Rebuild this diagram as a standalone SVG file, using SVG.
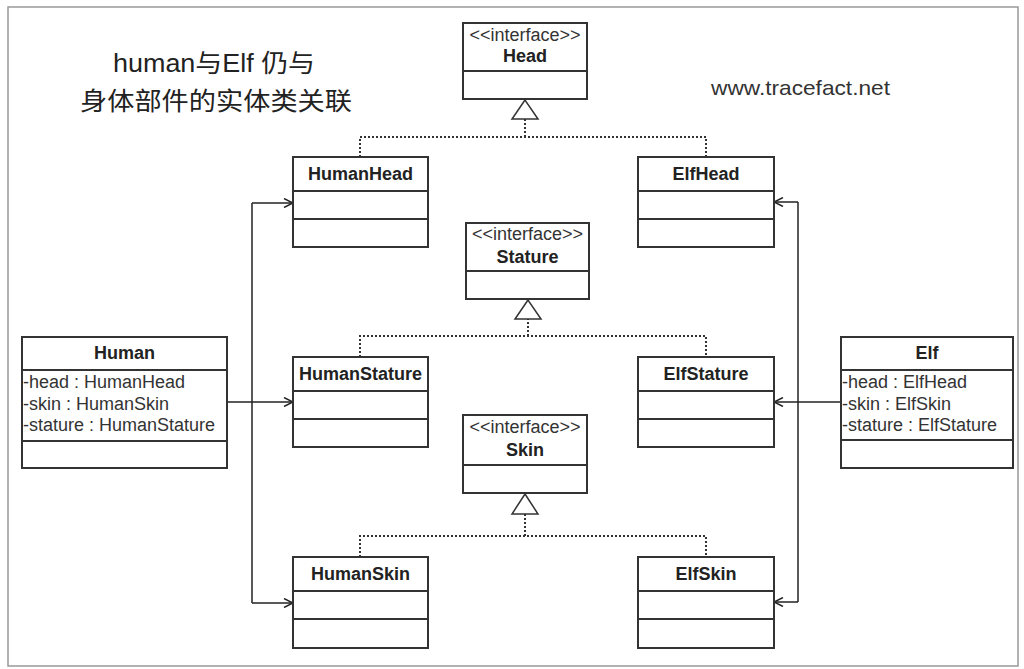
<svg xmlns="http://www.w3.org/2000/svg" width="1024" height="669" viewBox="0 0 1024 669">
<style>
.box{fill:#fff;stroke:#333;stroke-width:2}
.sep{stroke:#333;stroke-width:2}
.line{stroke:#222;stroke-width:1.5;fill:none}
.dash{stroke:#333;stroke-width:2;stroke-dasharray:2 2;fill:none}
.tri{fill:#fff;stroke:#333;stroke-width:1.5}
.t{font-family:"Liberation Sans",Arial,sans-serif;font-size:18px;fill:#333}
.b{font-weight:bold;text-anchor:middle;fill:#222}
.m{text-anchor:middle}
.title{font-family:"Liberation Sans","Noto Sans CJK SC",sans-serif;font-size:25px;fill:#222;text-anchor:middle}
</style>
<defs>
<marker id="open" viewBox="0 0 10 10" refX="10" refY="5" markerWidth="10" markerHeight="10" markerUnits="userSpaceOnUse" orient="auto">
<path d="M1,0.5 L10,5 L1,9.5" fill="none" stroke="#222" stroke-width="1.5"/>
</marker>
</defs>
<rect x="0" y="0" width="1024" height="669" fill="#fff"/>
<rect x="8" y="7" width="1010" height="659" fill="none" stroke="#999" stroke-width="1.5"/>

<g id="title">
<text class="title" x="214" y="72" textLength="202" lengthAdjust="spacingAndGlyphs">human与Elf 仍与</text>
<text class="title" x="216" y="110" textLength="272" lengthAdjust="spacingAndGlyphs" fill="#444">身体部件的实体类关联</text>
</g>
<g id="url">
<text class="t" x="711" y="95" style="font-size:21px" textLength="179" lengthAdjust="spacingAndGlyphs">www.tracefact.net</text>
</g>

<g id="connectors">
<path class="dash" d="M360,157 V137 H706 V157"/>
<path class="dash" d="M525,137 V119"/>
<polygon class="tri" points="525,100 512,119 538,119"/>
<path class="dash" d="M360,357 V336 H706 V357"/>
<path class="dash" d="M528,336 V319"/>
<polygon class="tri" points="528,300 515,319 541,319"/>
<path class="dash" d="M360,557 V536 H706 V557"/>
<path class="dash" d="M525,536 V514"/>
<polygon class="tri" points="525,494 512,514 538,514"/>
<path class="line" d="M227,402 H293" marker-end="url(#open)"/>
<path class="line" d="M252,203 V603"/>
<path class="line" d="M252,203 H293" marker-end="url(#open)"/>
<path class="line" d="M252,603 H293" marker-end="url(#open)"/>
<path class="line" d="M841,402 H774" marker-end="url(#open)"/>
<path class="line" d="M798,202 V602"/>
<path class="line" d="M798,202 H774" marker-end="url(#open)"/>
<path class="line" d="M798,602 H774" marker-end="url(#open)"/>
</g>

<g id="Head">
<rect class="box" x="463" y="23" width="124" height="76"/>
<line class="sep" x1="463" y1="71" x2="587" y2="71"/>
<text class="t m" x="525" y="41">&lt;&lt;interface&gt;&gt;</text>
<text class="t b" x="525" y="62">Head</text>
</g>
<g id="Stature">
<rect class="box" x="466" y="223" width="123" height="76"/>
<line class="sep" x1="466" y1="271" x2="589" y2="271"/>
<text class="t m" x="527.5" y="240">&lt;&lt;interface&gt;&gt;</text>
<text class="t b" x="527.5" y="263">Stature</text>
</g>
<g id="Skin">
<rect class="box" x="463" y="415" width="124" height="78"/>
<line class="sep" x1="463" y1="465" x2="587" y2="465"/>
<text class="t m" x="525" y="433">&lt;&lt;interface&gt;&gt;</text>
<text class="t b" x="525" y="456">Skin</text>
</g>

<g id="HumanHead">
<rect class="box" x="293" y="157" width="135" height="90"/>
<line class="sep" x1="293" y1="191" x2="428" y2="191"/>
<line class="sep" x1="293" y1="219" x2="428" y2="219"/>
<text class="t b" x="360.5" y="180">HumanHead</text>
</g>
<g id="ElfHead">
<rect class="box" x="638" y="157" width="136" height="90"/>
<line class="sep" x1="638" y1="191" x2="774" y2="191"/>
<line class="sep" x1="638" y1="219" x2="774" y2="219"/>
<text class="t b" x="706" y="180">ElfHead</text>
</g>
<g id="HumanStature">
<rect class="box" x="293" y="357" width="135" height="90"/>
<line class="sep" x1="293" y1="391" x2="428" y2="391"/>
<line class="sep" x1="293" y1="419" x2="428" y2="419"/>
<text class="t b" x="360.5" y="380">HumanStature</text>
</g>
<g id="ElfStature">
<rect class="box" x="638" y="357" width="136" height="90"/>
<line class="sep" x1="638" y1="391" x2="774" y2="391"/>
<line class="sep" x1="638" y1="419" x2="774" y2="419"/>
<text class="t b" x="706" y="380">ElfStature</text>
</g>
<g id="HumanSkin">
<rect class="box" x="293" y="557" width="135" height="91"/>
<line class="sep" x1="293" y1="591" x2="428" y2="591"/>
<line class="sep" x1="293" y1="619" x2="428" y2="619"/>
<text class="t b" x="360.5" y="580">HumanSkin</text>
</g>
<g id="ElfSkin">
<rect class="box" x="638" y="557" width="136" height="91"/>
<line class="sep" x1="638" y1="591" x2="774" y2="591"/>
<line class="sep" x1="638" y1="619" x2="774" y2="619"/>
<text class="t b" x="706" y="580">ElfSkin</text>
</g>

<g id="Human">
<rect class="box" x="22" y="337" width="205" height="131"/>
<line class="sep" x1="22" y1="370" x2="227" y2="370"/>
<line class="sep" x1="22" y1="441" x2="227" y2="441"/>
<text class="t b" x="124.5" y="359">Human</text>
<text class="t" x="23" y="388">-head : HumanHead</text>
<text class="t" x="23" y="410">-skin : HumanSkin</text>
<text class="t" x="23" y="431">-stature : HumanStature</text>
</g>
<g id="Elf">
<rect class="box" x="841" y="337" width="172" height="131"/>
<line class="sep" x1="841" y1="370" x2="1013" y2="370"/>
<line class="sep" x1="841" y1="440" x2="1013" y2="440"/>
<text class="t b" x="927" y="359">Elf</text>
<text class="t" x="842" y="388">-head : ElfHead</text>
<text class="t" x="842" y="410">-skin : ElfSkin</text>
<text class="t" x="842" y="431">-stature : ElfStature</text>
</g>
</svg>
